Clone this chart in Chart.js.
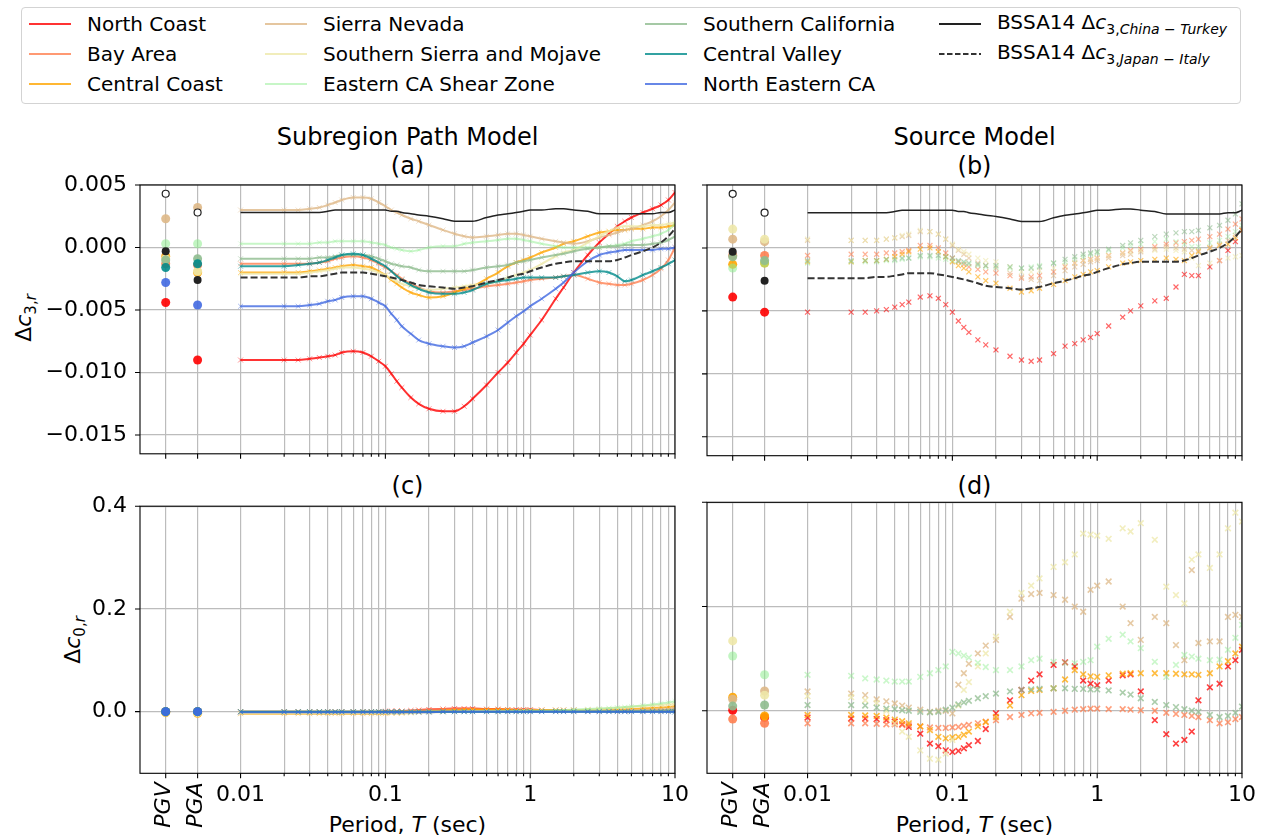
<!DOCTYPE html>
<html>
<head>
<meta charset="utf-8">
<script src="https://cdn.jsdelivr.net/npm/chart.js@4.4.1/dist/chart.umd.min.js"></script>
<style>
  body { margin: 0; background: #fff; }
  #fig { position: relative; width: 1265px; height: 839px; overflow: hidden; font-family: "DejaVu Sans", sans-serif; color: #000; }
  #fig canvas { position: absolute; }
  .txt { position: absolute; white-space: nowrap; line-height: 1; transform: translate(-50%, -50%); }
  .ttl { font-size: 24px; }
  .xl { font-size: 22px; }
  .yl { font-size: 22px; transform: translate(-50%, -50%) rotate(-90deg); }
  .yl sub { font-size: 15px; }
  #legendBox { position: absolute; left: 21px; top: 7px; width: 1218px; height: 95px; border: 1px solid #d3d3d3; border-radius: 4px; }
  .lg { position: absolute; font-size: 20px; white-space: nowrap; line-height: 1; transform: translateY(-50%); }
  .lg sub { font-size: 14px; }
  .sw { position: absolute; }
</style>
</head>
<body>
<div id="fig">
  <div id="legendBox"></div>

  <div class="txt ttl" style="left:407.5px;top:137px">Subregion Path Model</div>
  <div class="txt ttl" style="left:407.5px;top:166px">(a)</div>
  <div class="txt ttl" style="left:974.5px;top:137px">Source Model</div>
  <div class="txt ttl" style="left:974.5px;top:166px">(b)</div>
  <div class="txt ttl" style="left:407.5px;top:486px">(c)</div>
  <div class="txt ttl" style="left:974.5px;top:486px">(d)</div>

  <div class="txt yl" style="left:26px;top:318px">Δ<i>c</i><sub>3,<i>r</i></sub></div>
  <div class="txt yl" style="left:75px;top:640px">Δ<i>c</i><sub>0,<i>r</i></sub></div>

  <div class="txt xl" style="left:407.5px;top:825px">Period, <i>T</i> (sec)</div>
  <div class="txt xl" style="left:974.5px;top:825px">Period, <i>T</i> (sec)</div>

  <canvas id="pa" width="700" height="340" style="left:0px;top:140px"></canvas>
  <canvas id="pb" width="625" height="340" style="left:640px;top:140px"></canvas>
  <canvas id="pc" width="700" height="359" style="left:0px;top:480px"></canvas>
  <canvas id="pd" width="625" height="359" style="left:640px;top:480px"></canvas>
</div>

<script>
// periods (sec) shared by all series
const PERIODS = [0.01, 0.02, 0.025, 0.03, 0.035, 0.04, 0.045, 0.05,
  0.06, 0.07, 0.08, 0.09, 0.1, 0.11, 0.12, 0.13,
  0.15, 0.17, 0.2, 0.25, 0.3, 0.35, 0.4, 0.5, 0.6, 0.7, 0.8, 0.9,
  1, 1.2, 1.5, 1.7, 2, 2.5, 3, 3.5, 4, 4.5, 5, 6, 7, 8, 9, 10];

const REGIONS = ['North Coast', 'Bay Area', 'Central Coast', 'Sierra Nevada',
  'Southern Sierra and Mojave', 'Eastern CA Shear Zone', 'Southern California',
  'Central Valley', 'North Eastern CA'];
const REGION_HEX = ['#ff0000', '#ff7f50', '#ffa500', '#deb887', '#eee8aa',
  '#90ee90', '#8fbc8f', '#008b8b', '#4169e1'];
const LINE_ALPHA = [0.8, 0.8, 0.8, 0.8, 0.8, 0.5, 0.8, 0.8, 0.8];

// ---- (a) subregion path model, delta c3 ----
const pathNorthCoast = [-0.0090, -0.0090, -0.0090, -0.0089, -0.0088, -0.0087, -0.0086, -0.0084,
  -0.0083, -0.0084, -0.0087, -0.0091, -0.0095, -0.0101, -0.0107, -0.0112,
  -0.0120, -0.0125, -0.0129, -0.0131, -0.0131, -0.0127, -0.0121, -0.0110, -0.0100, -0.0092, -0.0084, -0.0077,
  -0.0070, -0.0058, -0.0041, -0.0032, -0.0020, -0.0006, 0.0004, 0.0011, 0.0017, 0.0021, 0.0024, 0.0028, 0.0031, 0.0034, 0.0038, 0.0044];
const pathBayArea = [-0.0013, -0.0013, -0.0013, -0.0013, -0.0012, -0.0011, -0.0009, -0.0008,
  -0.0007, -0.0008, -0.0010, -0.0013, -0.0016, -0.0019, -0.0022, -0.0025,
  -0.0029, -0.0032, -0.0035, -0.0036, -0.0035, -0.0034, -0.0033, -0.0031, -0.0030, -0.0029, -0.0028, -0.0027,
  -0.0026, -0.0025, -0.0024, -0.0023, -0.0022, -0.0025, -0.0028, -0.0029, -0.0030, -0.0030, -0.0029, -0.0026, -0.0022, -0.0017, -0.0010, 0.0000];
const pathCentralCoast = [-0.0020, -0.0020, -0.0020, -0.0019, -0.0018, -0.0017, -0.0016, -0.0015,
  -0.0014, -0.0015, -0.0016, -0.0019, -0.0022, -0.0026, -0.0029, -0.0032,
  -0.0036, -0.0038, -0.0040, -0.0039, -0.0036, -0.0033, -0.0031, -0.0025, -0.0020, -0.0015, -0.0012, -0.0010,
  -0.0008, -0.0004, 0.0000, 0.0003, 0.0005, 0.0009, 0.0012, 0.0013, 0.0014, 0.0014, 0.0015, 0.0015, 0.0016, 0.0016, 0.0017, 0.0018];
const pathSierraNevada = [0.0030, 0.0030, 0.0030, 0.0031, 0.0032, 0.0034, 0.0036, 0.0038,
  0.0040, 0.0040, 0.0039, 0.0036, 0.0033, 0.0030, 0.0028, 0.0026,
  0.0023, 0.0021, 0.0018, 0.0014, 0.0011, 0.0009, 0.0008, 0.0009, 0.0010, 0.0011, 0.0011, 0.0010,
  0.0009, 0.0007, 0.0005, 0.0004, 0.0003, 0.0005, 0.0008, 0.0010, 0.0012, 0.0014, 0.0015, 0.0018, 0.0021, 0.0025, 0.0030, 0.0036];
const pathSoSierraMojave = [-0.0021, -0.0021, -0.0021, -0.0020, -0.0019, -0.0018, -0.0017, -0.0016,
  -0.0016, -0.0017, -0.0018, -0.0020, -0.0022, -0.0025, -0.0027, -0.0029,
  -0.0031, -0.0033, -0.0034, -0.0033, -0.0032, -0.0031, -0.0030, -0.0029, -0.0027, -0.0024, -0.0022, -0.0020,
  -0.0018, -0.0013, -0.0007, -0.0004, -0.0002, 0.0004, 0.0009, 0.0013, 0.0016, 0.0017, 0.0017, 0.0017, 0.0018, 0.0018, 0.0019, 0.0020];
const pathEasternCA = [0.0003, 0.0003, 0.0003, 0.0003, 0.0004, 0.0004, 0.0005, 0.0005,
  0.0005, 0.0005, 0.0004, 0.0003, 0.0002, 0.0000, -0.0001, -0.0002,
  -0.0003, -0.0002, 0.0000, 0.0001, 0.0001, 0.0003, 0.0004, 0.0005, 0.0006, 0.0007, 0.0007, 0.0006,
  0.0005, 0.0003, 0.0001, 0.0000, 0.0000, 0.0000, 0.0000, 0.0001, 0.0002, 0.0003, 0.0005, 0.0007, 0.0009, 0.0011, 0.0014, 0.0019];
const pathSoCal = [-0.0009, -0.0009, -0.0009, -0.0009, -0.0008, -0.0008, -0.0007, -0.0006,
  -0.0006, -0.0006, -0.0007, -0.0009, -0.0011, -0.0013, -0.0014, -0.0015,
  -0.0016, -0.0018, -0.0019, -0.0019, -0.0019, -0.0019, -0.0018, -0.0016, -0.0015, -0.0014, -0.0012, -0.0011,
  -0.0010, -0.0008, -0.0006, -0.0005, -0.0003, -0.0001, 0.0000, 0.0001, 0.0001, 0.0002, 0.0002, 0.0002, 0.0003, 0.0004, 0.0006, 0.0009];
const pathCentralValley = [-0.0015, -0.0015, -0.0014, -0.0013, -0.0012, -0.0010, -0.0008, -0.0006,
  -0.0005, -0.0006, -0.0009, -0.0012, -0.0015, -0.0019, -0.0023, -0.0026,
  -0.0030, -0.0033, -0.0036, -0.0037, -0.0037, -0.0036, -0.0034, -0.0029, -0.0027, -0.0026, -0.0025, -0.0024,
  -0.0024, -0.0024, -0.0024, -0.0023, -0.0022, -0.0020, -0.0019, -0.0020, -0.0023, -0.0027, -0.0026, -0.0022, -0.0019, -0.0016, -0.0013, -0.0010];
const pathNorthEastern = [-0.0047, -0.0047, -0.0047, -0.0046, -0.0045, -0.0043, -0.0042, -0.0040,
  -0.0039, -0.0039, -0.0041, -0.0044, -0.0047, -0.0053, -0.0058, -0.0063,
  -0.0069, -0.0074, -0.0077, -0.0079, -0.0080, -0.0079, -0.0076, -0.0071, -0.0066, -0.0060, -0.0055, -0.0051,
  -0.0047, -0.0041, -0.0033, -0.0028, -0.0020, -0.0011, -0.0006, -0.0004, -0.0003, -0.0002, -0.0002, -0.0002, -0.0002, -0.0001, -0.0001, 0.0000];
// PGV / PGA values, region order
const pathPGV = [-0.0044, -0.0013, -0.0007, 0.0023, -0.0009, 0.0003, -0.0010, -0.0016, -0.0028];
const pathPGA = [-0.0090, -0.0014, -0.0020, 0.0032, -0.0019, 0.0003, -0.0009, -0.0013, -0.0046];

// BSSA14 reference curves
const bssaChinaTurkey = [0.0028, 0.0028, 0.0028, 0.0028, 0.0028, 0.0029, 0.0030, 0.0030,
  0.0030, 0.0030, 0.0030, 0.0030, 0.0030, 0.0029, 0.0029, 0.0028,
  0.0027, 0.0026, 0.0025, 0.0023, 0.0021, 0.0021, 0.0021, 0.0024, 0.0026, 0.0027, 0.0028, 0.0029,
  0.0030, 0.0030, 0.0031, 0.0031, 0.0030, 0.0029, 0.0027, 0.0027, 0.0027, 0.0027, 0.0027, 0.0027, 0.0027, 0.0028, 0.0028, 0.0030];
const bssaJapanItaly = [-0.0024, -0.0024, -0.0024, -0.0023, -0.0023, -0.0022, -0.0021, -0.0020,
  -0.0020, -0.0020, -0.0021, -0.0022, -0.0023, -0.0024, -0.0025, -0.0026,
  -0.0028, -0.0030, -0.0031, -0.0032, -0.0033, -0.0032, -0.0031, -0.0028, -0.0026, -0.0024, -0.0022, -0.0021,
  -0.0019, -0.0016, -0.0013, -0.0012, -0.0011, -0.0011, -0.0011, -0.0011, -0.0010, -0.0008, -0.0006, -0.0003, 0.0000, 0.0004, 0.0009, 0.0015];
const bssaChinaTurkeyPG = [0.0043, 0.0028];
const bssaJapanItalyPG = [-0.0003, -0.0026];

// ---- (b) source model, delta c3 ----
const srcNorthCoast = [-0.0051, -0.0051, -0.0051, -0.0050, -0.0049, -0.0047, -0.0045, -0.0043,
  -0.0039, -0.0038, -0.0040, -0.0045, -0.0051, -0.0058, -0.0063, -0.0067,
  -0.0073, -0.0077, -0.0081, -0.0086, -0.0089, -0.0090, -0.0089, -0.0084, -0.0078, -0.0076, -0.0073, -0.0071,
  -0.0068, -0.0062, -0.0055, -0.0050, -0.0046, -0.0042, -0.0040, -0.0031, -0.0021, -0.0022, -0.0022, -0.0015, -0.0010, -0.0002, 0.0005, 0.0014];
const srcBayArea = [-0.0006, -0.0005, -0.0005, -0.0005, -0.0004, -0.0004, -0.0003, -0.0002,
  0.0002, 0.0002, 0.0000, -0.0004, -0.0008, -0.0011, -0.0013, -0.0015,
  -0.0017, -0.0019, -0.0020, -0.0022, -0.0024, -0.0023, -0.0022, -0.0019, -0.0015, -0.0012, -0.0010, -0.0009,
  -0.0008, -0.0006, -0.0004, -0.0002, -0.0001, 0.0001, 0.0003, 0.0004, 0.0005, 0.0006, 0.0007, 0.0009, 0.0011, 0.0015, 0.0019, 0.0023];
const srcCentralCoast = [-0.0011, -0.0011, -0.0010, -0.0010, -0.0009, -0.0007, -0.0005, -0.0003,
  -0.0001, 0.0000, -0.0003, -0.0007, -0.0011, -0.0014, -0.0016, -0.0019,
  -0.0023, -0.0026, -0.0028, -0.0032, -0.0035, -0.0034, -0.0032, -0.0029, -0.0026, -0.0023, -0.0021, -0.0019,
  -0.0018, -0.0015, -0.0012, -0.0011, -0.0010, -0.0009, -0.0008, -0.0009, -0.0010, -0.0006, -0.0003, 0.0000, 0.0002, 0.0003, 0.0008, 0.0014];
const srcSierraNevada = [0.0006, 0.0006, 0.0006, 0.0006, 0.0007, 0.0008, 0.0009, 0.0010,
  0.0013, 0.0013, 0.0011, 0.0007, 0.0002, -0.0002, -0.0005, -0.0008,
  -0.0012, -0.0014, -0.0016, -0.0020, -0.0023, -0.0025, -0.0026, -0.0022, -0.0018, -0.0015, -0.0013, -0.0011,
  -0.0010, -0.0008, -0.0006, -0.0005, -0.0003, -0.0001, 0.0001, 0.0000, -0.0001, -0.0002, -0.0002, 0.0000, 0.0003, 0.0006, 0.0010, 0.0015];
const srcSoSierraMojave = [0.0007, 0.0006, 0.0006, 0.0006, 0.0007, 0.0008, 0.0010, 0.0011,
  0.0014, 0.0013, 0.0011, 0.0007, 0.0003, -0.0001, -0.0003, -0.0005,
  -0.0008, -0.0010, -0.0011, -0.0015, -0.0019, -0.0019, -0.0018, -0.0016, -0.0014, -0.0012, -0.0010, -0.0009,
  -0.0008, -0.0006, -0.0004, -0.0003, -0.0002, -0.0002, -0.0001, -0.0002, -0.0003, -0.0008, -0.0014, -0.0012, -0.0010, -0.0008, -0.0007, -0.0006];
const srcEasternCA = [-0.0012, -0.0011, -0.0011, -0.0011, -0.0010, -0.0010, -0.0009, -0.0008,
  -0.0007, -0.0007, -0.0008, -0.0009, -0.0010, -0.0011, -0.0012, -0.0013,
  -0.0014, -0.0015, -0.0015, -0.0016, -0.0016, -0.0015, -0.0014, -0.0012, -0.0011, -0.0009, -0.0007, -0.0005,
  -0.0004, -0.0002, 0.0000, 0.0002, 0.0003, 0.0005, 0.0007, 0.0005, 0.0003, 0.0001, 0.0001, 0.0004, 0.0006, 0.0009, 0.0013, 0.0018];
const srcSoCal = [-0.0010, -0.0010, -0.0010, -0.0010, -0.0009, -0.0009, -0.0008, -0.0008,
  -0.0006, -0.0006, -0.0006, -0.0007, -0.0008, -0.0010, -0.0011, -0.0012,
  -0.0013, -0.0014, -0.0014, -0.0015, -0.0016, -0.0016, -0.0015, -0.0012, -0.0009, -0.0007, -0.0005, -0.0004,
  -0.0003, -0.0001, 0.0002, 0.0004, 0.0006, 0.0009, 0.0011, 0.0012, 0.0013, 0.0013, 0.0014, 0.0016, 0.0018, 0.0022, 0.0027, 0.0035];
const srcPGV = [-0.0039, -0.0006, -0.0013, 0.0007, 0.0015, -0.0016, -0.0007, null, null];
const srcPGA = [-0.0051, -0.0006, -0.0012, 0.0005, 0.0007, -0.0012, -0.0010, null, null];

// ---- (c) subregion path model, delta c0 ----
const pathC0NorthCoast = [0, 0, 0, 0, 0, 0, 0, 0,
  0, 0, 0, 0, 0.001, 0.001, 0.001, 0.001,
  0.002, 0.003, 0.004, 0.005, 0.006, 0.006, 0.006, 0.005, 0.005, 0.004, 0.004, 0.004,
  0.004, 0.003, 0.003, 0.003, 0.003, 0.002, 0.002, 0.002, 0.002, 0.002, 0.002, 0.002, 0.002, 0.002, 0.003, 0.003];
const pathC0BayArea = [0, 0, 0, 0, 0, 0, 0, 0,
  0, 0, 0, 0, 0, 0.001, 0.001, 0.001,
  0.002, 0.003, 0.004, 0.005, 0.005, 0.005, 0.005, 0.004, 0.004, 0.003, 0.003, 0.003,
  0.003, 0.003, 0.002, 0.002, 0.002, 0.002, 0.002, 0.002, 0.002, 0.002, 0.002, 0.002, 0.003, 0.003, 0.003, 0.004];
const pathC0CentralCoast = [-0.004, -0.004, -0.004, -0.004, -0.004, -0.004, -0.004, -0.004,
  -0.004, -0.004, -0.004, -0.004, -0.004, -0.003, -0.003, -0.003,
  -0.002, -0.001, 0.000, 0.002, 0.003, 0.004, 0.004, 0.004, 0.004, 0.004, 0.003, 0.003,
  0.003, 0.003, 0.003, 0.003, 0.003, 0.003, 0.003, 0.003, 0.004, 0.004, 0.005, 0.006, 0.007, 0.008, 0.009, 0.011];
const pathC0SierraNevada = [-0.001, -0.001, -0.001, -0.001, -0.001, -0.001, -0.001, -0.001,
  -0.001, -0.001, -0.001, -0.001, -0.001, -0.001, -0.001, -0.001,
  -0.001, -0.001, 0, 0, 0, 0, 0.001, 0.001, 0.001, 0.001, 0.001, 0.001,
  0.001, 0.001, 0.001, 0.001, 0.001, 0.001, 0.002, 0.002, 0.002, 0.002, 0.003, 0.003, 0.004, 0.004, 0.005, 0.006];
const pathC0SoSierraMojave = [-0.003, -0.003, -0.003, -0.003, -0.003, -0.003, -0.003, -0.003,
  -0.003, -0.003, -0.003, -0.003, -0.003, -0.003, -0.003, -0.003,
  -0.003, -0.002, -0.002, -0.001, 0, 0, 0.001, 0.001, 0.001, 0.001, 0.001, 0.002,
  0.002, 0.002, 0.002, 0.003, 0.003, 0.004, 0.005, 0.006, 0.007, 0.008, 0.009, 0.011, 0.012, 0.013, 0.014, 0.015];
const pathC0EasternCA = [0, 0, 0, 0, 0, 0, 0, 0,
  0, 0, 0, 0, 0, 0, 0, 0,
  0, 0, 0, 0, 0, 0, 0, 0, 0, 0.001, 0.001, 0.001,
  0.002, 0.002, 0.003, 0.003, 0.004, 0.005, 0.006, 0.007, 0.008, 0.009, 0.010, 0.012, 0.014, 0.016, 0.018, 0.020];
const pathC0SoCal = [0, 0, 0, 0, 0, 0, 0, 0,
  0, 0, 0, 0, 0, 0, 0, 0,
  0, 0, 0, 0, 0, 0, 0, 0, 0, 0, 0, 0,
  0.001, 0.001, 0.001, 0.001, 0.001, 0.001, 0.001, 0.001, 0.001, 0.001, 0.001, 0.002, 0.002, 0.002, 0.003, 0.003];
const pathC0CentralValley = [0, 0, 0, 0, 0, 0, 0, 0,
  0, 0, 0, 0, 0, 0, 0, 0,
  0, 0, 0, 0, 0, 0, 0, 0, 0, 0, 0, 0,
  0, 0, 0, 0, 0, 0, 0, 0, 0, 0, 0, 0, 0, 0, 0, 0];
const pathC0NorthEastern = [-0.001, -0.001, -0.001, -0.001, -0.001, -0.001, -0.001, -0.001,
  -0.001, -0.001, -0.001, -0.001, -0.001, -0.001, -0.001, -0.001,
  -0.001, -0.001, -0.001, 0, 0, 0, 0, 0, 0, 0, 0, 0,
  0, 0, 0, 0, 0, 0, 0, 0, 0, 0, 0, 0, 0, 0, 0, 0];
const pathC0PGV = [0, 0, -0.002, 0, -0.001, 0, 0, 0, 0];
const pathC0PGA = [0, 0, -0.003, 0, -0.002, 0, 0, 0, 0];

// ---- (d) source model, delta c0 ----
const srcC0NorthCoast = [-0.013, -0.015, -0.015, -0.016, -0.018, -0.021, -0.026, -0.031,
  -0.044, -0.063, -0.068, -0.076, -0.079, -0.077, -0.072, -0.066,
  -0.058, -0.035, -0.005, 0.020, 0.040, 0.058, 0.070, 0.088, 0.093, 0.085, 0.058, 0.052,
  0.049, 0.058, 0.068, 0.070, 0.037, -0.018, -0.045, -0.063, -0.056, -0.040, 0.020, 0.045, 0.052, 0.085, 0.097, 0.117];
const srcC0BayArea = [-0.024, -0.024, -0.024, -0.025, -0.026, -0.026, -0.027, -0.028,
  -0.030, -0.032, -0.033, -0.033, -0.032, -0.031, -0.029, -0.027,
  -0.024, -0.021, -0.018, -0.012, -0.008, -0.005, -0.004, -0.002, 0.000, 0.002, 0.003, 0.004,
  0.004, 0.003, 0.003, 0.002, 0.001, 0.000, -0.004, -0.006, -0.008, -0.010, -0.012, -0.018, -0.024, -0.022, -0.016, -0.012];
const srcC0CentralCoast = [-0.008, -0.008, -0.009, -0.010, -0.013, -0.017, -0.020, -0.024,
  -0.030, -0.037, -0.050, -0.053, -0.051, -0.050, -0.046, -0.040,
  -0.030, -0.022, -0.012, 0.010, 0.030, 0.038, 0.040, 0.043, 0.060, 0.078, 0.070, 0.066,
  0.065, 0.068, 0.071, 0.072, 0.072, 0.072, 0.072, 0.071, 0.070, 0.070, 0.069, 0.072, 0.085, 0.095, 0.110, 0.123];
const srcC0SierraNevada = [0.037, 0.033, 0.030, 0.022, 0.018, 0.014, 0.010, 0.006,
  0.002, -0.002, 0.000, 0.000, -0.005, 0.050, 0.072, 0.090,
  0.110, 0.125, 0.136, 0.180, 0.215, 0.224, 0.226, 0.222, 0.213, 0.200, 0.190, 0.232,
  0.240, 0.248, 0.200, 0.168, 0.136, 0.180, 0.168, 0.126, 0.097, 0.270, 0.130, 0.133, 0.133, 0.180, 0.184, 0.180];
const srcC0SoSierraMojave = [0.028, 0.026, 0.020, 0.015, 0.000, -0.024, -0.040, -0.050,
  -0.076, -0.092, -0.094, -0.082, -0.056, 0.010, 0.040, 0.055,
  0.085, 0.110, 0.142, 0.190, 0.226, 0.240, 0.254, 0.276, 0.285, 0.300, 0.340, 0.338,
  0.336, 0.330, 0.350, 0.344, 0.360, 0.328, 0.238, 0.222, 0.206, 0.290, 0.300, 0.274, 0.300, 0.350, 0.380, 0.363];
const srcC0EasternCA = [0.069, 0.067, 0.062, 0.060, 0.058, 0.056, 0.056, 0.056,
  0.065, 0.072, 0.078, 0.085, 0.113, 0.110, 0.106, 0.102,
  0.092, 0.084, 0.078, 0.078, 0.085, 0.097, 0.100, 0.094, 0.092, 0.091, 0.094, 0.097,
  0.123, 0.138, 0.146, 0.133, 0.120, 0.094, 0.065, 0.088, 0.107, 0.104, 0.100, 0.097, 0.098, 0.117, 0.140, 0.165];
const srcC0SoCal = [0.011, 0.011, 0.010, 0.006, 0.004, 0.003, 0.001, 0.000,
  -0.002, -0.003, -0.002, 0.002, 0.006, 0.012, 0.016, 0.019,
  0.024, 0.028, 0.033, 0.037, 0.040, 0.041, 0.042, 0.043, 0.043, 0.042, 0.042, 0.041,
  0.041, 0.039, 0.035, 0.031, 0.024, 0.017, 0.011, 0.007, 0.003, 0.000, -0.002, -0.008, -0.012, -0.010, -0.004, 0.008];
const srcC0PGV = [0.001, -0.016, 0.026, 0.022, 0.134, 0.105, 0.009, null, null];
const srcC0PGA = [-0.013, -0.024, -0.010, 0.038, 0.030, 0.069, 0.011, null, null];

// axis setup: PGV / PGA get their own slots left of 0.01 s
const X_MIN = 0.002021;
const PGV_X = 0.003041;
const PGA_X = 0.00505;
const X_GRID = [PGV_X, PGA_X, 0.01, 0.02, 0.03, 0.04, 0.05, 0.06, 0.07, 0.08, 0.09,
  0.1, 0.2, 0.3, 0.4, 0.5, 0.6, 0.7, 0.8, 0.9, 1, 2, 3, 4, 5, 6, 7, 8, 9, 10];
const X_MAJOR = [PGV_X, PGA_X, 0.01, 0.1, 1, 10];
const X_LABELS = { '0.01': '0.01', '0.1': '0.1', '1': '1', '10': '10' };
const GRID = '#bcbcbc';

Chart.defaults.font.family = 'DejaVu Sans';
Chart.defaults.font.size = 22;
Chart.defaults.color = '#000';

function rgba(hex, a) {
  const n = parseInt(hex.slice(1), 16);
  return `rgba(${(n >> 16) & 255},${(n >> 8) & 255},${n & 255},${a})`;
}

function minusFmt(digits) {
  return v => (v < 0 ? '\u2212' : '') + Math.abs(v).toFixed(digits);
}

// frame, tick marks and the rotated PGV / PGA labels
const framePlugin = {
  id: 'frame',
  afterDraw(chart, args, opts) {
    const { ctx, chartArea: a, scales } = chart;
    const x = scales.x, y = scales.y;
    ctx.save();
    ctx.strokeStyle = '#000';
    ctx.lineWidth = 1.1;
    ctx.beginPath();
    X_GRID.forEach(v => {
      const px = x.getPixelForValue(v);
      const len = X_MAJOR.includes(v) ? 5 : 3;
      ctx.moveTo(px, a.bottom);
      ctx.lineTo(px, a.bottom + len);
    });
    y.ticks.forEach(t => {
      const py = y.getPixelForValue(t.value);
      ctx.moveTo(a.left - 5, py);
      ctx.lineTo(a.left, py);
    });
    ctx.stroke();
    ctx.strokeRect(a.left, a.top, a.right - a.left, a.bottom - a.top);
    if (opts.pg) {
      ctx.fillStyle = '#000';
      ctx.font = 'italic 22px "DejaVu Sans"';
      ctx.textAlign = 'right';
      ctx.textBaseline = 'middle';
      [[PGV_X, 'PGV'], [PGA_X, 'PGA']].forEach(([v, s]) => {
        ctx.save();
        ctx.translate(x.getPixelForValue(v) - 1, a.bottom + 9);
        ctx.rotate(-Math.PI / 2);
        ctx.fillText(s, 0, 0);
        ctx.restore();
      });
    }
    ctx.restore();
  }
};

function makePanel(id, cfg) {
  const datasets = [];
  cfg.series.forEach((s, i) => {
    if (!s) return;
    const hex = REGION_HEX[i];
    datasets.push({
      data: PERIODS.map((t, k) => ({ x: t, y: s[k] })),
      showLine: cfg.lines,
      borderColor: rgba(hex, LINE_ALPHA[i]),
      borderWidth: 2,
      cubicInterpolationMode: 'monotone',
      pointStyle: 'crossRot',
      pointRadius: cfg.markR,
      pointBorderWidth: cfg.markW,
      pointBorderColor: rgba(hex, cfg.markA * LINE_ALPHA[i] / 0.8),
      pointBackgroundColor: 'rgba(0,0,0,0)',
      order: -i
    });
    datasets.push({
      data: [{ x: PGV_X, y: cfg.pgv[i] }, { x: PGA_X, y: cfg.pga[i] }],
      showLine: false,
      pointRadius: 4.5,
      pointBorderWidth: 0,
      pointBackgroundColor: rgba(hex, 0.9 * LINE_ALPHA[i] / 0.8),
      order: -i
    });
  });
  if (cfg.bssa) {
    datasets.push({
      data: PERIODS.map((t, k) => ({ x: t, y: bssaChinaTurkey[k] })),
      showLine: true, borderColor: '#222', borderWidth: 1.5, pointRadius: 0,
      cubicInterpolationMode: 'monotone', order: -20
    });
    datasets.push({
      data: PERIODS.map((t, k) => ({ x: t, y: bssaJapanItaly[k] })),
      showLine: true, borderColor: '#333', borderWidth: 2, borderDash: [7, 3], pointRadius: 0,
      cubicInterpolationMode: 'monotone', order: -20
    });
    datasets.push({
      data: [{ x: PGV_X, y: bssaChinaTurkeyPG[0] }, { x: PGA_X, y: bssaChinaTurkeyPG[1] }],
      showLine: false, pointRadius: 3.5, pointBorderWidth: 1.2,
      pointBorderColor: '#222', pointBackgroundColor: '#fff', order: -20
    });
    datasets.push({
      data: [{ x: PGV_X, y: bssaJapanItalyPG[0] }, { x: PGA_X, y: bssaJapanItalyPG[1] }],
      showLine: false, pointRadius: 4, pointBorderWidth: 0,
      pointBackgroundColor: '#222', order: -20
    });
  }

  new Chart(document.getElementById(id), {
    type: 'scatter',
    data: { datasets },
    plugins: [framePlugin],
    options: {
      responsive: false,
      animation: false,
      events: [],
      layout: { padding: { left: 0, right: cfg.padR, top: cfg.padT, bottom: 0 } },
      plugins: { legend: { display: false }, tooltip: { enabled: false }, frame: { pg: cfg.xLabels } },
      scales: {
        x: {
          type: 'logarithmic', min: X_MIN, max: 10,
          afterBuildTicks: s => { s.ticks = X_GRID.map(v => ({ value: v })); },
          afterFit: s => { s.height = cfg.xH; },
          grid: { color: GRID, lineWidth: 1.2, drawTicks: false },
          border: { display: false },
          ticks: {
            display: cfg.xLabels, autoSkip: false, maxRotation: 0, minRotation: 0,
            padding: 9, callback: v => X_LABELS[v] || ''
          }
        },
        y: {
          type: 'linear', min: cfg.ymin, max: cfg.ymax,
          afterBuildTicks: s => { s.ticks = cfg.yTicks.map(v => ({ value: v })); },
          afterFit: s => { s.width = cfg.yW; },
          grid: { color: GRID, lineWidth: 1.2, drawTicks: false },
          border: { display: false },
          ticks: { display: cfg.yLabels, padding: 13, callback: cfg.fmt }
        }
      }
    }
  });
}

const C3_TICKS = [-0.015, -0.010, -0.005, 0.000, 0.005];
const C0_TICKS = [0.0, 0.2, 0.4];

makePanel('pa', {
  series: [pathNorthCoast, pathBayArea, pathCentralCoast, pathSierraNevada, pathSoSierraMojave,
    pathEasternCA, pathSoCal, pathCentralValley, pathNorthEastern],
  pgv: pathPGV, pga: pathPGA, bssa: true, lines: true, markR: 3.5, markW: 1, markA: 0.45,
  ymin: -0.0165, ymax: 0.005, yTicks: C3_TICKS, fmt: minusFmt(3),
  xLabels: false, yLabels: true, yW: 140, xH: 24.3, padT: 45, padR: 25
});
makePanel('pb', {
  series: [srcNorthCoast, srcBayArea, srcCentralCoast, srcSierraNevada, srcSoSierraMojave,
    srcEasternCA, srcSoCal, null, null],
  pgv: srcPGV, pga: srcPGA, bssa: true, lines: false, markR: 3.5, markW: 1.2, markA: 0.6,
  ymin: -0.0165, ymax: 0.005, yTicks: C3_TICKS, fmt: minusFmt(3),
  xLabels: false, yLabels: false, yW: 67, xH: 24.3, padT: 45, padR: 23
});
makePanel('pc', {
  series: [pathC0NorthCoast, pathC0BayArea, pathC0CentralCoast, pathC0SierraNevada, pathC0SoSierraMojave,
    pathC0EasternCA, pathC0SoCal, pathC0CentralValley, pathC0NorthEastern],
  pgv: pathC0PGV, pga: pathC0PGA, bssa: false, lines: true, markR: 3.5, markW: 1, markA: 0.45,
  ymin: -0.12, ymax: 0.4, yTicks: C0_TICKS, fmt: minusFmt(1),
  xLabels: true, yLabels: true, yW: 140, xH: 65.7, padT: 22.3, padR: 25
});
makePanel('pd', {
  series: [srcC0NorthCoast, srcC0BayArea, srcC0CentralCoast, srcC0SierraNevada, srcC0SoSierraMojave,
    srcC0EasternCA, srcC0SoCal, null, null],
  pgv: srcC0PGV, pga: srcC0PGA, bssa: false, lines: false, markR: 4, markW: 1.6, markA: 0.75,
  ymin: -0.12, ymax: 0.4, yTicks: C0_TICKS, fmt: minusFmt(1),
  xLabels: true, yLabels: false, yW: 67, xH: 65.7, padT: 22.3, padR: 23
});

// legend: four columns, region entries then the two BSSA14 curves
const LEGEND_SW_X = [29, 265, 645, 939];
const LEGEND_TX_X = [87, 323, 703, 997];
const LEGEND_ROW_Y = [24, 54, 84];
const fig = document.getElementById('fig');

function legendItem(col, row, stroke, dash, html) {
  const y = LEGEND_ROW_Y[row];
  const sw = document.createElementNS('http://www.w3.org/2000/svg', 'svg');
  sw.setAttribute('class', 'sw');
  sw.setAttribute('width', '42');
  sw.setAttribute('height', '4');
  sw.style.left = LEGEND_SW_X[col] + 'px';
  sw.style.top = (y - 2) + 'px';
  sw.innerHTML = `<line x1="0" y1="2" x2="42" y2="2" stroke="${stroke}" stroke-width="2"${dash ? ` stroke-dasharray="${dash}"` : ''}/>`;
  fig.appendChild(sw);
  const tx = document.createElement('div');
  tx.className = 'lg';
  tx.style.left = LEGEND_TX_X[col] + 'px';
  tx.style.top = y + 'px';
  tx.innerHTML = html;
  fig.appendChild(tx);
}

REGIONS.forEach((name, i) => {
  legendItem(Math.floor(i / 3), i % 3, rgba(REGION_HEX[i], LINE_ALPHA[i]), null, name);
});
legendItem(3, 0, '#222', null, 'BSSA14 Δ<i>c</i><sub>3,<i>China</i> − <i>Turkey</i></sub>');
legendItem(3, 1, '#333', '5.5,2.5', 'BSSA14 Δ<i>c</i><sub>3,<i>Japan</i> − <i>Italy</i></sub>');
</script>
</body>
</html>
